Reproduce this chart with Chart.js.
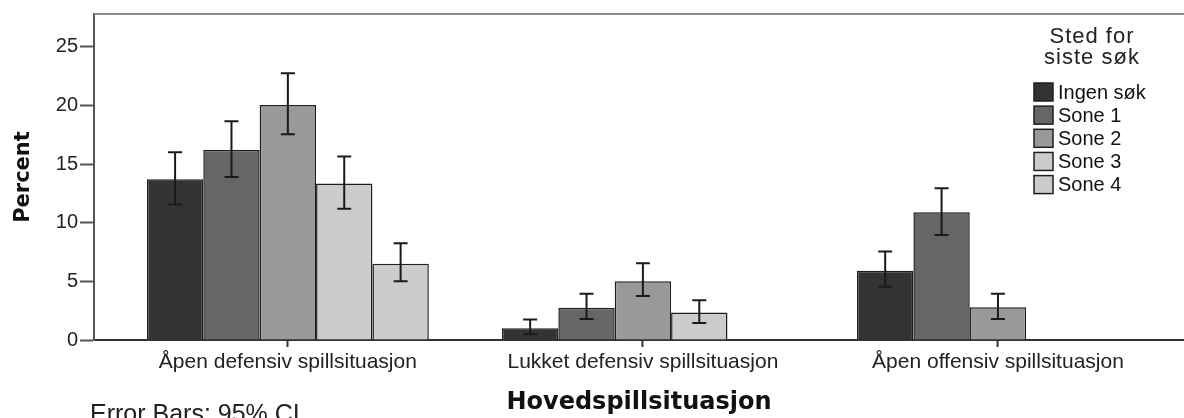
<!DOCTYPE html>
<html>
<head>
<meta charset="utf-8">
<script src="https://cdn.jsdelivr.net/npm/chart.js@4.4.1/dist/chart.umd.min.js"></script>
<style>
html, body { margin: 0; padding: 0; background: #fff; }
#wrap { position: relative; width: 1184px; height: 418px; }
</style>
</head>
<body>
<div id="wrap"><canvas id="c"></canvas></div>
<script>
// ---- data ----
const categories = ['Åpen defensiv spillsituasjon', 'Lukket defensiv spillsituasjon', 'Åpen offensiv spillsituasjon'];
const seriesNames = ['Ingen søk', 'Sone 1', 'Sone 2', 'Sone 3', 'Sone 4'];
const ingenSok = [13.7, 1.0, 5.9];
const sone1 = [16.2, 2.75, 10.9];
const sone2 = [20.05, 5.0, 2.8];
const sone3 = [13.35, 2.35, null];
const sone4 = [6.5, null, null];
const ingenSokCI = [[11.55, 16.0], [0.5, 1.75], [4.55, 7.55]];
const sone1CI = [[13.9, 18.65], [1.8, 3.95], [8.95, 12.95]];
const sone2CI = [[17.55, 22.75], [3.75, 6.55], [1.8, 3.95]];
const sone3CI = [[11.2, 15.65], [1.45, 3.4], null];
const sone4CI = [[5.0, 8.25], null, null];
const yTicks = [0, 5, 10, 15, 20, 25];
const axisTitleY = 'Percent';
const axisTitleX = 'Hovedspillsituasjon';
const legendTitle = ['Sted for', 'siste søk'];
const footnote = 'Error Bars: 95% CI';

const seriesValues = [ingenSok, sone1, sone2, sone3, sone4];
const seriesCI = [ingenSokCI, sone1CI, sone2CI, sone3CI, sone4CI];
const colors = ['#333333', '#666666', '#999999', '#cccccc', '#cccccc'];

const datasets = seriesValues.map((vals, k) => ({
  label: seriesNames[k],
  data: vals.map((v, i) => ({ x: i, y: v })),
  backgroundColor: colors[k],
  borderColor: '#1e1e1e',
  borderWidth: 1.5,
  categoryPercentage: 0.794,
  barPercentage: 1.0,
  ci: seriesCI[k]
}));

const SANS = "'Liberation Sans', Arial, sans-serif";
const BOLD = "'DejaVu Sans', Verdana, sans-serif";

const decorPlugin = {
  id: 'decor',
  beforeDatasetsDraw(chart) {
    const ctx = chart.ctx, a = chart.chartArea;
    ctx.save();
    ctx.strokeStyle = '#8a8a8a';
    ctx.lineWidth = 2;
    ctx.beginPath();
    ctx.moveTo(a.left, a.top);
    ctx.lineTo(a.right, a.top);
    ctx.stroke();
    ctx.restore();
  },
  afterDatasetsDraw(chart) {
    const ctx = chart.ctx;
    const ys = chart.scales.y;
    ctx.save();
    ctx.strokeStyle = '#1a1a1a';
    ctx.lineWidth = 2;
    chart.data.datasets.forEach((ds, k) => {
      const meta = chart.getDatasetMeta(k);
      meta.data.forEach((el, i) => {
        const ci = ds.ci[i];
        if (!ci || ds.data[i].y == null) return;
        const x = el.x;
        const y1 = ys.getPixelForValue(ci[0]);
        const y2 = ys.getPixelForValue(ci[1]);
        const hw = 7;
        ctx.beginPath();
        ctx.moveTo(x, y1); ctx.lineTo(x, y2);
        ctx.moveTo(x - hw, y1); ctx.lineTo(x + hw, y1);
        ctx.moveTo(x - hw, y2); ctx.lineTo(x + hw, y2);
        ctx.stroke();
      });
    });
    ctx.restore();
  },
  afterDraw(chart) {
    const ctx = chart.ctx;
    ctx.save();
    // legend title
    ctx.fillStyle = '#222';
    ctx.font = '22px ' + SANS;
    ctx.textAlign = 'center';
    ctx.textBaseline = 'alphabetic';
    try { ctx.letterSpacing = '1px'; } catch (e) {}
    ctx.fillText(legendTitle[0], 1092, 43);
    ctx.fillText(legendTitle[1], 1092, 64);
    try { ctx.letterSpacing = '0px'; } catch (e) {}
    // legend items
    ctx.textAlign = 'left';
    ctx.textBaseline = 'middle';
    ctx.font = '20px ' + SANS;
    chart.data.datasets.forEach((ds, k) => {
      const cy = 92 + k * 23.15;
      ctx.fillStyle = ds.backgroundColor;
      ctx.fillRect(1034, cy - 9, 19, 18);
      ctx.strokeStyle = '#1e1e1e';
      ctx.lineWidth = 1.5;
      ctx.strokeRect(1034, cy - 9, 19, 18);
      ctx.fillStyle = '#111';
      ctx.fillText(ds.label, 1058, cy + 1);
    });
    // footnote
    ctx.font = '25px ' + SANS;
    ctx.fillStyle = '#222';
    ctx.textBaseline = 'alphabetic';
    ctx.fillText(footnote, 90, 422);
    ctx.restore();
  }
};

new Chart(document.getElementById('c'), {
  type: 'bar',
  data: { datasets },
  plugins: [decorPlugin],
  options: {
    responsive: true,
    maintainAspectRatio: false,
    animation: false,
    layout: { padding: { top: 13, left: 0, right: 0, bottom: 0 } },
    plugins: { legend: { display: false }, tooltip: { enabled: false } },
    scales: {
      x: {
        type: 'linear',
        offset: false,
        min: -0.546,
        max: 2.524,
        afterBuildTicks(scale) { scale.ticks = categories.map((c, i) => ({ value: i })); },
        afterFit(scale) { scale.height = 78; },
        ticks: {
          autoSkip: false,
          maxRotation: 0,
          padding: 3,
          color: '#222',
          font: { family: SANS, size: 21 },
          callback: (v) => categories[v]
        },
        grid: { offset: false, drawOnChartArea: false, drawTicks: true, tickLength: 7, tickWidth: 2, tickColor: '#333' },
        border: { display: true, color: '#333', width: 2 },
        title: {
          display: true,
          text: axisTitleX,
          color: '#111',
          font: { family: BOLD, size: 24, weight: 'bold' },
          padding: { top: 0, bottom: 1 }
        }
      },
      y: {
        min: 0,
        max: 27.8,
        afterBuildTicks(scale) { scale.ticks = yTicks.map(v => ({ value: v })); },
        afterFit(scale) { scale.width = 94; },
        ticks: {
          padding: 2,
          color: '#222',
          font: { family: SANS, size: 20 }
        },
        grid: { drawOnChartArea: false, drawTicks: true, tickLength: 14, tickWidth: 2, tickColor: '#555' },
        border: { display: true, color: '#555', width: 2 },
        title: {
          display: true,
          text: axisTitleY,
          color: '#111',
          font: { family: BOLD, size: 21, weight: 'bold' },
          padding: { top: 11, bottom: 0 }
        }
      }
    }
  }
});
</script>
</body>
</html>
